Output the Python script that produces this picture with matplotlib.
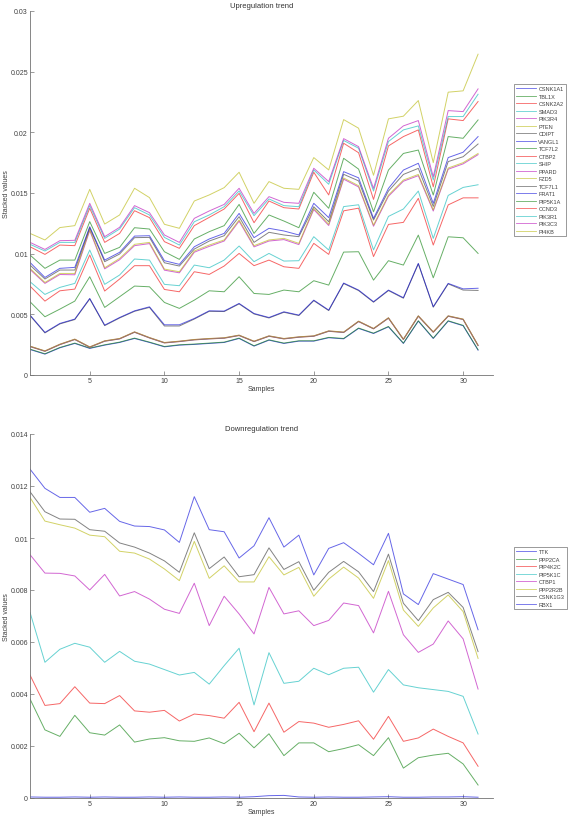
import numpy as np
import matplotlib
matplotlib.use('Agg')
import matplotlib.pyplot as plt

plt.rcParams['font.family'] = ['Liberation Sans', 'DejaVu Sans']

samples = np.arange(1, 32)

# ---- upregulated genes, stacked values ----
up_genes = ['CSNK1A1', 'TBL1X', 'CSNK2A2', 'SMAD3', 'PIK3R4', 'PTEN', 'CDIPT',
            'VANGL1', 'TCF7L2', 'CTBP2', 'SHIP', 'PPARD', 'FZD5', 'TCF7L1',
            'FRAT1', 'PIP5K1A', 'CCND3', 'PIK3R1', 'PIK3C3', 'PI4KB']

csnk1a1 = [0.00210, 0.00172, 0.00224, 0.00260, 0.00219, 0.00246, 0.00268, 0.00301, 0.00268, 0.00232, 0.00246,
           0.00252, 0.00260, 0.00268, 0.00301, 0.00238, 0.00287, 0.00260, 0.00279, 0.00279, 0.00307, 0.00298,
           0.00384, 0.00342, 0.00397, 0.00260, 0.00444, 0.00301, 0.00444, 0.00406, 0.00205]
tbl1x = [0.00213, 0.00175, 0.00227, 0.00263, 0.00222, 0.00249, 0.00271, 0.00304, 0.00271, 0.00235, 0.00249,
         0.00255, 0.00263, 0.00271, 0.00304, 0.00241, 0.00290, 0.00263, 0.00282, 0.00282, 0.00310, 0.00301,
         0.00387, 0.00345, 0.00400, 0.00263, 0.00447, 0.00304, 0.00447, 0.00409, 0.00208]
csnk2a2 = [0.00234, 0.00195, 0.00250, 0.00292, 0.00228, 0.00278, 0.00297, 0.00352, 0.00305, 0.00264, 0.00275,
           0.00289, 0.00297, 0.00303, 0.00325, 0.00275, 0.00319, 0.00297, 0.00311, 0.00319, 0.00360, 0.00350,
           0.00440, 0.00380, 0.00468, 0.00292, 0.00484, 0.00352, 0.00484, 0.00457, 0.00242]
smad3 = [0.00235, 0.00196, 0.00251, 0.00293, 0.00229, 0.00279, 0.00298, 0.00353, 0.00306, 0.00265, 0.00276,
         0.00290, 0.00298, 0.00304, 0.00326, 0.00276, 0.00320, 0.00298, 0.00312, 0.00320, 0.00361, 0.00351,
         0.00441, 0.00381, 0.00469, 0.00293, 0.00485, 0.00353, 0.00485, 0.00458, 0.00243]
pik3r4 = [0.00237, 0.00198, 0.00253, 0.00295, 0.00231, 0.00281, 0.00300, 0.00355, 0.00308, 0.00267, 0.00278,
          0.00292, 0.00300, 0.00306, 0.00328, 0.00278, 0.00322, 0.00300, 0.00314, 0.00322, 0.00363, 0.00353,
          0.00443, 0.00383, 0.00471, 0.00295, 0.00487, 0.00355, 0.00487, 0.00460, 0.00245]
pten = [0.00238, 0.00199, 0.00254, 0.00296, 0.00232, 0.00282, 0.00301, 0.00356, 0.00309, 0.00268, 0.00279,
        0.00293, 0.00301, 0.00307, 0.00329, 0.00279, 0.00323, 0.00301, 0.00315, 0.00323, 0.00364, 0.00354,
        0.00444, 0.00384, 0.00472, 0.00296, 0.00488, 0.00356, 0.00488, 0.00461, 0.00246]
cdipt = [0.00490, 0.00347, 0.00421, 0.00457, 0.00627, 0.00407, 0.00470, 0.00525, 0.00557, 0.00404, 0.00404,
         0.00461, 0.00525, 0.00523, 0.00586, 0.00503, 0.00470, 0.00517, 0.00490, 0.00613, 0.00531, 0.00754,
         0.00696, 0.00600, 0.00696, 0.00633, 0.00916, 0.00559, 0.00751, 0.00700, 0.00697]
vangl1 = [0.00494, 0.00351, 0.00425, 0.00461, 0.00631, 0.00411, 0.00474, 0.00529, 0.00562, 0.00414, 0.00414,
          0.00466, 0.00529, 0.00527, 0.00590, 0.00507, 0.00474, 0.00521, 0.00494, 0.00617, 0.00535, 0.00758,
          0.00700, 0.00604, 0.00700, 0.00637, 0.00920, 0.00563, 0.00755, 0.00710, 0.00715]
tcf7l2 = [0.00604, 0.00480, 0.00543, 0.00609, 0.00810, 0.00557, 0.00645, 0.00733, 0.00727, 0.00598, 0.00549,
          0.00617, 0.00694, 0.00686, 0.00810, 0.00672, 0.00664, 0.00700, 0.00686, 0.00777, 0.00741, 0.01013,
          0.01016, 0.00782, 0.00942, 0.00906, 0.01153, 0.00801, 0.01139, 0.01131, 0.01002]
ctbp2 = [0.00733, 0.00609, 0.00694, 0.00708, 0.00989, 0.00692, 0.00791, 0.00901, 0.00901, 0.00705, 0.00686,
         0.00851, 0.00829, 0.00898, 0.01002, 0.00901, 0.00947, 0.00892, 0.00879, 0.01085, 0.00994, 0.01353,
         0.01375, 0.00976, 0.01241, 0.01258, 0.01456, 0.01071, 0.01402, 0.01460, 0.01460]
ship = [0.00769, 0.00664, 0.00722, 0.00755, 0.01030, 0.00747, 0.00824, 0.00956, 0.00947, 0.00747, 0.00736,
        0.00906, 0.00884, 0.00947, 0.01063, 0.00934, 0.01002, 0.00939, 0.00942, 0.01140, 0.01030, 0.01388,
        0.01403, 0.01031, 0.01307, 0.01368, 0.01516, 0.01126, 0.01480, 0.01546, 0.01568]
ppard = [0.00870, 0.00755, 0.00828, 0.00826, 0.01190, 0.00875, 0.00950, 0.01066, 0.01083, 0.00864, 0.00842,
         0.01012, 0.01060, 0.01104, 0.01268, 0.01056, 0.01104, 0.01116, 0.01075, 0.01364, 0.01232, 0.01614,
         0.01550, 0.01226, 0.01473, 0.01597, 0.01643, 0.01351, 0.01696, 0.01740, 0.01816]
fzd5 = [0.00879, 0.00763, 0.00837, 0.00837, 0.01200, 0.00884, 0.00961, 0.01077, 0.01093, 0.00873, 0.00851,
        0.01022, 0.01071, 0.01113, 0.01278, 0.01066, 0.01113, 0.01126, 0.01085, 0.01374, 0.01242, 0.01624,
        0.01560, 0.01236, 0.01483, 0.01607, 0.01653, 0.01361, 0.01706, 0.01750, 0.01826]
tcf7l1 = [0.00906, 0.00791, 0.00865, 0.00865, 0.01214, 0.00934, 0.00997, 0.01132, 0.01134, 0.00925, 0.00898,
          0.01038, 0.01104, 0.01148, 0.01305, 0.01093, 0.01176, 0.01154, 0.01140, 0.01387, 0.01263, 0.01654,
          0.01600, 0.01277, 0.01516, 0.01653, 0.01703, 0.01389, 0.01759, 0.01799, 0.01904]
frat1 = [0.00928, 0.00804, 0.00879, 0.00887, 0.01222, 0.00947, 0.01011, 0.01145, 0.01148, 0.00942, 0.00912,
         0.01057, 0.01121, 0.01167, 0.01332, 0.01132, 0.01209, 0.01187, 0.01154, 0.01415, 0.01297, 0.01676,
         0.01625, 0.01291, 0.01538, 0.01689, 0.01745, 0.01415, 0.01792, 0.01836, 0.01965]
pip5k1a = [0.00989, 0.00879, 0.00947, 0.00947, 0.01264, 0.01002, 0.01052, 0.01214, 0.01203, 0.01016, 0.00953,
           0.01121, 0.01181, 0.01231, 0.01406, 0.01167, 0.01319, 0.01269, 0.01214, 0.01506, 0.01374, 0.01786,
           0.01697, 0.01345, 0.01689, 0.01826, 0.01854, 0.01483, 0.01965, 0.01951, 0.02102]
ccnd3 = [0.01057, 0.00994, 0.01071, 0.01066, 0.01374, 0.01093, 0.01167, 0.01354, 0.01297, 0.01099, 0.01044,
         0.01231, 0.01299, 0.01368, 0.01497, 0.01255, 0.01434, 0.01379, 0.01368, 0.01671, 0.01484, 0.01910,
         0.01832, 0.01447, 0.01888, 0.01965, 0.02020, 0.01551, 0.02111, 0.02097, 0.02254]
pik3r1 = [0.01077, 0.01022, 0.01093, 0.01093, 0.01396, 0.01126, 0.01203, 0.01379, 0.01319, 0.01134, 0.01071,
          0.01263, 0.01319, 0.01387, 0.01517, 0.01313, 0.01451, 0.01396, 0.01387, 0.01690, 0.01572, 0.01933,
          0.01869, 0.01516, 0.01924, 0.02020, 0.02053, 0.01607, 0.02130, 0.02130, 0.02314]
pik3c3 = [0.01093, 0.01035, 0.01107, 0.01110, 0.01415, 0.01140, 0.01217, 0.01396, 0.01338, 0.01154, 0.01093,
          0.01291, 0.01352, 0.01406, 0.01539, 0.01332, 0.01470, 0.01423, 0.01415, 0.01704, 0.01594, 0.01948,
          0.01882, 0.01538, 0.01951, 0.02053, 0.02097, 0.01634, 0.02179, 0.02171, 0.02358]
pi4kb = [0.01167, 0.01113, 0.01215, 0.01231, 0.01530, 0.01244, 0.01319, 0.01539, 0.01462, 0.01242, 0.01209,
         0.01434, 0.01484, 0.01544, 0.01671, 0.01415, 0.01594, 0.01539, 0.01530, 0.01792, 0.01690, 0.02105,
         0.02034, 0.01646, 0.02111, 0.02133, 0.02262, 0.01750, 0.02331, 0.02342, 0.02644]

up_series = [csnk1a1, tbl1x, csnk2a2, smad3, pik3r4, pten, cdipt, vangl1, tcf7l2,
             ctbp2, ship, ppard, fzd5, tcf7l1, frat1, pip5k1a, ccnd3, pik3r1,
             pik3c3, pi4kb]

# ---- downregulated genes, stacked values ----
down_genes = ['TTK', 'PPP2CA', 'PIP4K2C', 'PIP5K1C', 'CTBP1', 'PPP2R2B',
              'CSNK1G3', 'RBX1']

ttk = [0.00004, 0.00003, 0.00003, 0.00004, 0.00003, 0.00004, 0.00003, 0.00003, 0.00004, 0.00003, 0.00004,
       0.00003, 0.00003, 0.00004, 0.00003, 0.00005, 0.00009, 0.00010, 0.00004, 0.00003, 0.00004, 0.00003,
       0.00003, 0.00004, 0.00005, 0.00003, 0.00003, 0.00004, 0.00004, 0.00005, 0.00003]
ppp2ca = [0.00381, 0.00262, 0.00237, 0.00318, 0.00251, 0.00242, 0.00281, 0.00215, 0.00227, 0.00232, 0.00220,
          0.00218, 0.00231, 0.00209, 0.00249, 0.00193, 0.00247, 0.00163, 0.00212, 0.00212, 0.00178, 0.00190,
          0.00205, 0.00163, 0.00232, 0.00115, 0.00155, 0.00165, 0.00172, 0.00131, 0.00050]
pip4k2c = [0.00473, 0.00356, 0.00363, 0.00428, 0.00365, 0.00363, 0.00394, 0.00335, 0.00330, 0.00337, 0.00296,
           0.00323, 0.00317, 0.00307, 0.00368, 0.00255, 0.00365, 0.00253, 0.00294, 0.00288, 0.00272, 0.00283,
           0.00297, 0.00226, 0.00314, 0.00218, 0.00231, 0.00265, 0.00237, 0.00212, 0.00122]
pip5k1c = [0.00714, 0.00522, 0.00572, 0.00595, 0.00580, 0.00522, 0.00564, 0.00526, 0.00515, 0.00494, 0.00473,
           0.00483, 0.00438, 0.00509, 0.00576, 0.00358, 0.00559, 0.00441, 0.00449, 0.00499, 0.00474, 0.00499,
           0.00503, 0.00407, 0.00494, 0.00435, 0.00424, 0.00417, 0.00410, 0.00391, 0.00246]
ctbp1 = [0.00936, 0.00865, 0.00864, 0.00854, 0.00800, 0.00860, 0.00777, 0.00794, 0.00765, 0.00726, 0.00710,
         0.00826, 0.00663, 0.00776, 0.00708, 0.00631, 0.00810, 0.00708, 0.00720, 0.00663, 0.00683, 0.00750,
         0.00740, 0.00635, 0.00795, 0.00628, 0.00560, 0.00592, 0.00681, 0.00612, 0.00419]
ppp2r2b = [0.01156, 0.01065, 0.01051, 0.01038, 0.01011, 0.01005, 0.00949, 0.00942, 0.00919, 0.00881, 0.00836,
           0.00987, 0.00845, 0.00893, 0.00831, 0.00831, 0.00928, 0.00858, 0.00887, 0.00776, 0.00842, 0.00888,
           0.00846, 0.00768, 0.00913, 0.00723, 0.00660, 0.00731, 0.00781, 0.00717, 0.00537]
csnk1g3 = [0.01178, 0.01101, 0.01073, 0.01072, 0.01032, 0.01026, 0.00981, 0.00965, 0.00942, 0.00912, 0.00868,
           0.01020, 0.00882, 0.00927, 0.00851, 0.00859, 0.00962, 0.00879, 0.00909, 0.00799, 0.00868, 0.00910,
           0.00870, 0.00794, 0.00938, 0.00749, 0.00682, 0.00763, 0.00791, 0.00733, 0.00563]
rbx1 = [0.01265, 0.01191, 0.01156, 0.01156, 0.01099, 0.01114, 0.01064, 0.01046, 0.01044, 0.01031, 0.00983,
        0.01159, 0.01032, 0.01024, 0.00923, 0.00970, 0.01078, 0.00965, 0.01011, 0.00858, 0.00960, 0.00982,
        0.00941, 0.00897, 0.01018, 0.00785, 0.00744, 0.00863, 0.00842, 0.00821, 0.00647]

down_series = [ttk, ppp2ca, pip4k2c, pip5k1c, ctbp1, ppp2r2b, csnk1g3, rbx1]

up_yticks = [0, 0.005, 0.01, 0.015, 0.02, 0.025, 0.03]
up_yticklabels = ['0', '0.005', '0.01', '0.015', '0.02', '0.025', '0.03']
down_yticks = [0, 0.002, 0.004, 0.006, 0.008, 0.01, 0.012, 0.014]
down_yticklabels = ['0', '0.002', '0.004', '0.006', '0.008', '0.01', '0.012', '0.014']
xticks = [5, 10, 15, 20, 25, 30]

# old matlab colour order, drawn half transparent so overlaps darken
line_colors = ['#0000d8', '#007a00', '#f00000', '#00b4b4', '#b400b4', '#b4b400', '#303030']

W, H = 568, 820
fig = plt.figure(figsize=(W / 100, H / 100), dpi=100)


def draw_panel(rect, genes, series, yticks, yticklabels, title, legend_top):
    ax = fig.add_axes(rect)
    for i, (name, vals) in enumerate(zip(genes, series)):
        ax.plot(samples, vals, color=line_colors[i % 7], lw=0.7, alpha=0.6,
                label=name)
    ax.set_xlim(1, 32)
    ax.set_ylim(yticks[0], yticks[-1])
    ax.set_xticks(xticks)
    ax.set_yticks(yticks)
    ax.set_yticklabels(yticklabels)
    for side in ['top', 'right']:
        ax.spines[side].set_visible(False)
    for side in ['left', 'bottom']:
        ax.spines[side].set_color('0.45')
        ax.spines[side].set_linewidth(0.6)
    ax.tick_params(direction='in', length=3, width=0.5, colors='0.45',
                   labelcolor='0.25', labelsize=5, pad=1.5)
    ax.set_title(title, fontsize=5.5, color='0.2', pad=3)
    ax.set_xlabel('Samples', fontsize=5, color='0.25', labelpad=0.5)
    ax.set_ylabel('Stacked values', fontsize=5, color='0.25')
    ax.yaxis.set_label_coords(-20 / (rect[2] * W), 0.5)
    leg = ax.legend(loc='upper left', bbox_to_anchor=(514 / W, 1 - legend_top / H),
                    bbox_transform=fig.transFigure,
                    fontsize=4, handlelength=3.6, handletextpad=0.4,
                    labelspacing=0.45, borderpad=0.4, borderaxespad=0,
                    fancybox=False, frameon=True)
    leg.get_frame().set_edgecolor('0.3')
    leg.get_frame().set_linewidth(0.5)
    for h in leg.get_lines():
        h.set_linewidth(0.6)
    for t in leg.get_texts():
        t.set_color('0.25')
    return ax


draw_panel([30 / W, 444 / H, 463 / W, 364 / H], up_genes, up_series,
           up_yticks, up_yticklabels, 'Upregulation trend', 85)

draw_panel([30 / W, 21 / H, 463 / W, 364 / H], down_genes, down_series,
           down_yticks, down_yticklabels, 'Downregulation trend', 548)

fig.savefig('out.png', dpi=100)
